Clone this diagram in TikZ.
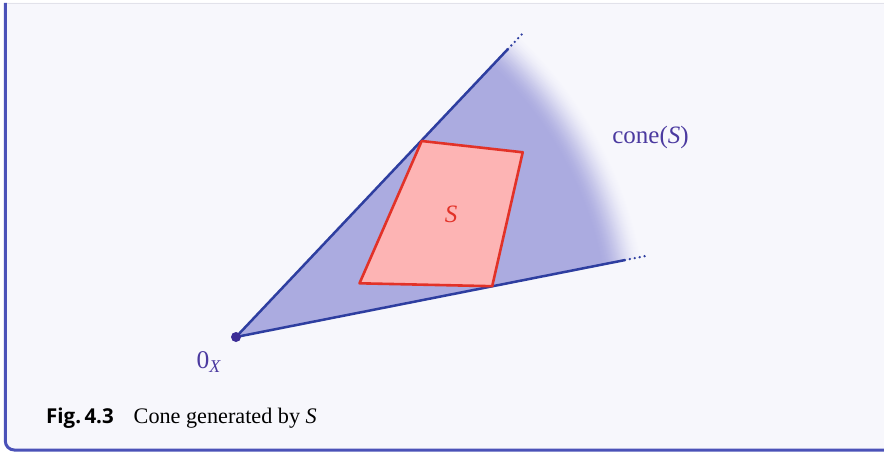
\documentclass[tikz,border=0pt]{standalone}
\usepackage{fontspec}
\usetikzlibrary{calc}
\setmainfont{Liberation Serif}
\newfontfamily\capsans{Open Sans}
\definecolor{bgc}{RGB}{247,247,252}
\definecolor{framec}{RGB}{75,82,184}
\definecolor{topline}{RGB}{226,226,234}
\definecolor{conefill}{RGB}{171,171,224}
\definecolor{rayc}{RGB}{46,62,160}
\definecolor{dotc}{RGB}{60,45,150}
\definecolor{sfill}{RGB}{253,180,180}
\definecolor{sline}{RGB}{226,50,40}
\definecolor{labc}{RGB}{75,58,160}
\tikzset{
  ray/.style={rayc, line width=2.5pt},
  raydots/.style={rayc, line width=2.6pt, line cap=round, dash pattern=on 0pt off 5pt},
  lab/.style={inner sep=0pt},
}
\begin{document}
\begin{tikzpicture}[x=1pt,y=-1pt]
\useasboundingbox (0,0) rectangle (884,452);
\fill[white] (0,0) rectangle (884,452);
% panel
\fill[bgc] (5.3,3) -- (5.3,441) arc[start angle=180, end angle=90, radius=9] -- (884,450) -- (884,3) -- cycle;
\draw[topline, line width=1pt] (5.3,3.5) -- (884,3.5);
\draw[framec, line width=3pt] (5.3,3) -- (5.3,441) arc[start angle=180, end angle=90, radius=9] -- (884,450);
% cone
\coordinate (O) at (236,337);
\def\aU{-46.64}
\def\aL{-11.19}
\foreach \i in {0,...,44}{
  \pgfmathsetmacro\rr{415-\i}
  \pgfmathsetmacro\pp{100*(3*(\i/44)^2-2*(\i/44)^3)}
  \fill[conefill!\pp!bgc] (O) -- ++(\aU:\rr) arc[start angle=\aU, end angle=\aL, radius=\rr] -- cycle;
}
\coordinate (U1) at ($(O)+(\aU:396)$);
\coordinate (U2) at ($(O)+(\aU:417)$);
\coordinate (L1) at ($(O)+(\aL:396.5)$);
\coordinate (L2) at ($(O)+(\aL:417)$);
\draw[ray] (O) -- (U1);
\draw[ray] (O) -- (L1);
\draw[raydots] (U1) -- (U2);
\draw[raydots] (L1) -- (L2);
\fill[dotc] (O) circle (5);
% set S
\coordinate (s1) at (421.7,141);
\coordinate (s2) at (522.7,152.3);
\coordinate (s3) at (492.2,286.2);
\coordinate (s4) at (359.5,283.3);
\draw[sline, fill=sfill, line width=2.6pt, line join=round] (s1) -- (s2) -- (s3) -- (s4) -- cycle;
% labels
\node[lab, text=sline, font=\fontsize{25}{28}\selectfont, anchor=base] (slab) at (451,222.5) {\textit{S}};
\node[lab, text=labc, font=\fontsize{25}{28}\selectfont, anchor=base] (conelab) at (650.5,143.3) {cone(\textit{S})};
\node[lab, text=labc, font=\fontsize{25.5}{28}\selectfont, anchor=base west] (olab) at (196.5,368) {0\raisebox{-4pt}{\fontsize{18}{20}\selectfont\textit{X}}};
\node[lab, font=\capsans\bfseries\fontsize{20.5}{24}\selectfont, anchor=base west] (fig) at (46,423) {Fig.\,4.3};
\node[lab, font=\fontsize{22.2}{26}\selectfont, anchor=base west] (cap) at (133.5,423) {Cone generated by \textit{S}};
\end{tikzpicture}
\end{document}
